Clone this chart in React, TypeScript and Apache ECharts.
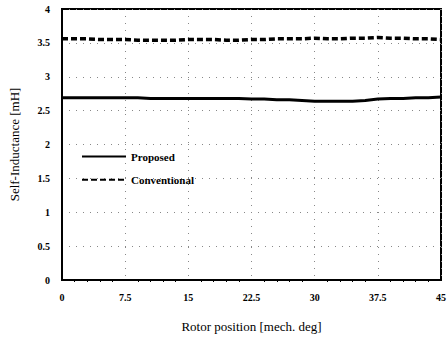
import React, { useEffect, useRef } from "react";
import * as echarts from "echarts";

const positions = [0, 1.5, 3, 4.5, 6, 7.5, 9, 10.5, 12, 13.5, 15, 16.5, 18, 19.5, 21, 22.5, 24, 25.5, 27, 28.5, 30, 31.5, 33, 34.5, 36, 37.5, 39, 40.5, 42, 43.5, 45];
const proposed = [2.69, 2.69, 2.69, 2.69, 2.69, 2.69, 2.69, 2.68, 2.68, 2.68, 2.68, 2.68, 2.68, 2.68, 2.68, 2.67, 2.67, 2.66, 2.66, 2.65, 2.64, 2.64, 2.64, 2.64, 2.65, 2.67, 2.68, 2.68, 2.69, 2.69, 2.7];
const conventional = [3.56, 3.56, 3.56, 3.55, 3.55, 3.55, 3.54, 3.54, 3.54, 3.54, 3.55, 3.55, 3.55, 3.54, 3.54, 3.55, 3.55, 3.56, 3.56, 3.56, 3.57, 3.56, 3.56, 3.57, 3.57, 3.58, 3.57, 3.57, 3.56, 3.56, 3.55];
const xTicks = [0, 7.5, 15, 22.5, 30, 37.5, 45];
const yTicks = [0, 0.5, 1, 1.5, 2, 2.5, 3, 3.5, 4];

const font = "'Liberation Serif', 'Times New Roman', serif";

export default function App() {
  const ref = useRef<HTMLDivElement>(null);
  useEffect(() => {
    if (!ref.current) return;
    const chart = echarts.init(ref.current, null, { renderer: "svg" });
    const gridLine = { show: true, lineStyle: { color: "#888", type: [1, 6] as any, width: 1 } };
    chart.setOption({
      animation: false,
      backgroundColor: "#fff",
      grid: {
        left: 62, right: 6, top: 9, bottom: 57, show: true, borderColor: "#000", borderWidth: 2,
        outerBoundsMode: "none", containLabel: false,
      },
      legend: {
        left: 76,
        top: 146,
        orient: "vertical",
        itemGap: 12,
        itemWidth: 44,
        itemHeight: 14,
        itemStyle: { opacity: 0 },
        textStyle: { fontFamily: font, fontWeight: "bold", fontSize: 11, color: "#000", padding: [0, 0, 0, 0] },
        data: ["Proposed", "Conventional"],
      },
      xAxis: {
        type: "value",
        min: 0,
        max: 45,
        interval: 7.5,
        name: "Rotor position [mech. deg]",
        nameLocation: "middle",
        nameGap: 40,
        nameTextStyle: { fontFamily: font, fontSize: 13, color: "#000" },
        axisLine: { show: true, lineStyle: { color: "#000", width: 2 } },
        axisTick: { show: false },
        minorTick: { show: true, splitNumber: 5, length: 2, lineStyle: { color: "#000" } },
        axisLabel: {
          fontFamily: font,
          fontWeight: "bold",
          fontSize: 10,
          color: "#000",
          margin: 12,
          formatter: (v: number) => (xTicks.includes(v) ? String(v) : ""),
        },
        splitLine: gridLine,
      },
      yAxis: {
        type: "value",
        min: 0,
        max: 4,
        interval: 0.5,
        name: "Self-Inductance [mH]",
        nameLocation: "middle",
        nameGap: 41,
        nameTextStyle: { fontFamily: font, fontSize: 13, color: "#000" },
        axisLine: { show: true, lineStyle: { color: "#000", width: 2 } },
        axisTick: { show: false },
        axisLabel: {
          fontFamily: font,
          fontWeight: "bold",
          fontSize: 10,
          color: "#000",
          margin: 12,
          formatter: (v: number) => (yTicks.includes(v) ? String(v) : ""),
        },
        splitLine: gridLine,
      },
      series: [
        {
          name: "Proposed",
          type: "line",
          symbol: "none",
          data: positions.map((p, i) => [p, proposed[i]]),
          lineStyle: { color: "#000", width: 3, type: "solid" },
          itemStyle: { color: "#000" },
        },
        {
          name: "Conventional",
          type: "line",
          symbol: "none",
          data: positions.map((p, i) => [p, conventional[i]]),
          lineStyle: { color: "#000", width: 3.5, type: [6, 3] },
          itemStyle: { color: "#000" },
        },
      ],
    });
    return () => chart.dispose();
  }, []);
  return <div ref={ref} style={{ width: 447, height: 337, position: "absolute", left: 0, top: 0 }} />;
}
